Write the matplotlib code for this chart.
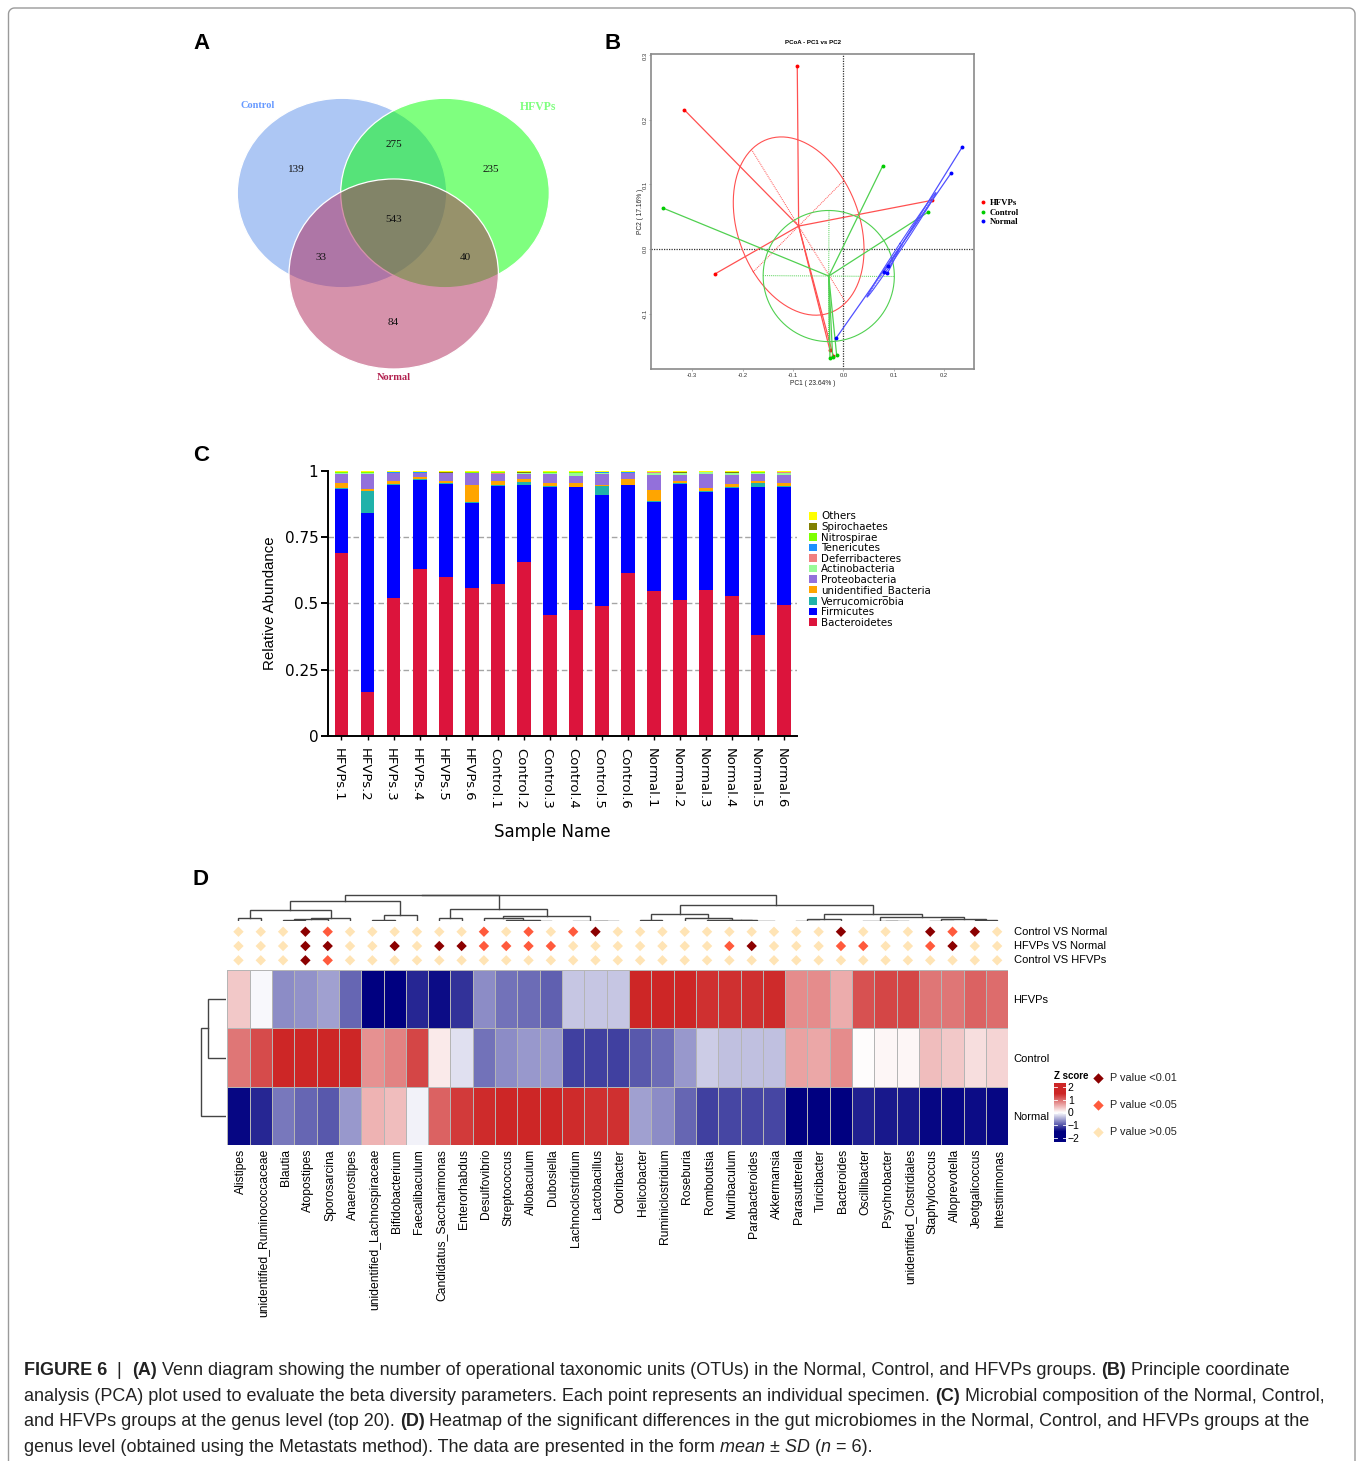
import numpy as np
import matplotlib
matplotlib.use('Agg')
import matplotlib.pyplot as plt
from matplotlib.colors import LinearSegmentedColormap, Normalize
from matplotlib.patches import Ellipse, Patch
from matplotlib.lines import Line2D
from matplotlib.transforms import ScaledTranslation

W, H = 1357, 1461
plt.rcParams['font.family'] = ['Liberation Sans', 'DejaVu Sans']

# panel A
venn_names = ['Control', 'HFVPs', 'Normal']
venn_colors = ['#5D91EB', '#00FF00', '#AF2759']
venn_cx = [342, 445, 393.7]
venn_cy = [193, 193, 274]
venn_a = [104.7, 104.3, 104.7]
venn_b = [94.7, 94.7, 95]
venn_counts = ['139', '275', '235', '543', '33', '40', '84']
venn_count_x = [296, 393.5, 491, 393.5, 321, 465.5, 393.5]
venn_count_y = [169, 144.5, 169, 220, 257.5, 257.5, 322.5]

# panel B
pc_x = {'HFVPs': [-.0914, -.3152, -.255, .1762, -.0265, -.0199],
        'Control': [-.3583, .0781, .1675, -.0132, -.0265, -.0212],
        'Normal': [.2364, .2139, .0887, .0808, .0874, -.0146]}
pc_y = {'HFVPs': [.2842, .2155, -.0388, .0755, -.1571, -.1659],
        'Control': [.0636, .1287, .0568, -.1649, -.169, -.1669],
        'Normal': [.1587, .1178, -.0269, -.0351, -.0377, -.1385]}
pc_colors = {'HFVPs': '#FF0000', 'Control': '#00CC00', 'Normal': '#0000FF'}

# panel C
samples = ['HFVPs.%d' % i for i in range(1, 7)] + ['Control.%d' % i for i in range(1, 7)] + ['Normal.%d' % i for i in range(1, 7)]
phyla = ['Bacteroidetes', 'Firmicutes', 'Verrucomicrobia', 'unidentified_Bacteria', 'Proteobacteria',
         'Actinobacteria', 'Deferribacteres', 'Tenericutes', 'Nitrospirae', 'Spirochaetes', 'Others']
phyla_colors = ['#DC143C', '#0000FF', '#20B2AA', '#FFA500', '#9370DB', '#98FB98', '#F08080', '#1E90FF', '#7FFF00', '#808000', '#FFFF00']
# cumulative top of each layer
top_bact = [.69, .165, .519, .63, .599, .56, .574, .658, .458, .475, .49, .615, .547, .513, .551, .527, .38, .494]
top_firm = [.932, .843, .947, .967, .951, .878, .945, .947, .941, .938, .911, .946, .884, .951, .922, .937, .94, .941]
top_verr = [.934, .926, .95, .969, .953, .882, .948, .958, .944, .941, .943, .949, .888, .954, .925, .941, .955, .944]
top_unid = [.955, .931, .962, .976, .962, .947, .962, .97, .955, .955, .947, .97, .928, .962, .937, .951, .962, .956]
top_prot = [.99, .99, .991, .992, .991, .992, .988, .99, .99, .981, .99, .993, .985, .985, .99, .985, .99, .985]
top_acti = [.991, .991, .994, .994, .992, .993, .989, .991, .993, .993, .994, .994, .992, .992, .995, .992, .993, .992]
top_defe = [.991, .991, .994, .994, .992, .993, .993, .992, .993, .993, .994, .994, .996, .992, .995, .992, .993, .996]
top_tene = [.992, .992, .995, .995, .993, .994, .994, .993, .994, .994, .995, .995, .997, .993, .996, .993, .994, .997]
top_nitr = [.995, .995, .996, .996, .994, .995, .995, .994, .995, .997, .996, .996, .998, .994, .997, .994, .995, .998]
top_spir = [.995, .995, .996, .996, .995, .995, .996, .996, .998, .997, .996, .996, .998, .997, .997, .998, .998, .998]
top_othe = [1.0] * 18
layer_tops = [top_bact, top_firm, top_verr, top_unid, top_prot, top_acti, top_defe, top_tene, top_nitr, top_spir, top_othe]

# panel D
genera = ['Alistipes', 'unidentified_Ruminococcaceae', 'Blautia', 'Atopostipes', 'Sporosarcina', 'Anaerostipes',
          'unidentified_Lachnospiraceae', 'Bifidobacterium', 'Faecalibaculum', 'Candidatus_Saccharimonas',
          'Enterorhabdus', 'Desulfovibrio', 'Streptococcus', 'Allobaculum', 'Dubosiella', 'Lachnoclostridium',
          'Lactobacillus', 'Odoribacter', 'Helicobacter', 'Ruminiclostridium', 'Roseburia', 'Romboutsia',
          'Muribaculum', 'Parabacteroides', 'Akkermansia', 'Parasutterella', 'Turicibacter', 'Bacteroides',
          'Oscillibacter', 'Psychrobacter', 'unidentified_Clostridiales', 'Staphylococcus', 'Alloprevotella',
          'Jeotgalicoccus', 'Intestinimonas']
heat_rows = ['HFVPs', 'Control', 'Normal']
heat_hfvps = [.5, -.05, -.9, -.85, -.75, -1.2, -2, -2, -1.7, -1.9, -1.6, -.9, -1.1, -1.15, -1.25, -.45, -.45, -.45,
              2, 2, 2, 1.9, 1.9, 1.9, 1.95, 1.05, 1.05, .75, 1.6, 1.7, 1.7, 1.25, 1.25, 1.45, 1.35]
heat_control = [1.25, 1.65, 2, 2, 2, 2, 1.0, 1.15, 1.7, .2, -.25, -1.1, -.9, -.8, -.8, -1.5, -1.5, -1.5,
                -1.3, -1.15, -.8, -.4, -.5, -.5, -.5, .85, .8, 1.05, .02, .08, .08, .6, .5, .3, .4]
heat_normal = [-1.95, -1.7, -1.05, -1.2, -1.3, -.8, .7, .6, -.1, 1.45, 1.8, 1.95, 2, 2, 2, 1.95, 1.9, 1.9,
               -.75, -.9, -1.2, -1.5, -1.45, -1.45, -1.45, -2, -2, -2, -1.75, -1.8, -1.8, -1.95, -1.95, -1.9, -1.95]
# 0: >0.05, 1: <0.05, 2: <0.01
sig_rows = ['Control VS HFVPs', 'HFVPs VS Normal', 'Control VS Normal']
sig_c_h = [0, 0, 0, 2, 1] + [0] * 30
sig_h_n = [0, 0, 0, 2, 2, 0, 0, 2, 0, 2, 2, 1, 1, 1, 1, 0, 0, 0, 0, 0, 0, 0, 1, 2, 0, 0, 0, 1, 1, 0, 0, 1, 2, 0, 0]
sig_c_n = [0, 0, 0, 2, 1, 0, 0, 0, 0, 0, 0, 1, 0, 1, 0, 1, 2, 0, 0, 0, 0, 0, 0, 0, 0, 0, 0, 2, 0, 0, 0, 2, 1, 2, 0]
sig_colors = ['#FFE4B5', '#FF5A3C', '#8B0000']
sig_labels = ['P value >0.05', 'P value <0.05', 'P value <0.01']
# linkage: (left id, right id, y pixel of the bracket); ids above 34 are earlier merges
col_merges = [(0, 1, 917.7), (2, 3, 920.2), (36, 4, 919.3), (37, 5, 917.7), (35, 38, 910), (6, 7, 920), (40, 8, 915),
              (39, 41, 900.7), (9, 10, 917.7), (13, 14, 920.7), (12, 44, 920), (11, 45, 918.3), (16, 17, 921),
              (15, 47, 920.7), (46, 48, 915.7), (43, 49, 909), (42, 50, 895.3), (18, 19, 920), (22, 23, 920.5),
              (53, 24, 920.7), (21, 54, 920), (20, 55, 918.3), (52, 56, 914.3), (25, 26, 921), (58, 27, 919.3),
              (29, 30, 921), (28, 60, 920.7), (31, 32, 920.7), (33, 34, 919.7), (62, 63, 919.3), (61, 64, 917.3),
              (59, 65, 913.7), (57, 66, 905.3), (51, 67, 895)]
row_merges = [(0, 1, 208.3), (3, 2, 201.3)]

caption = [
    [('FIGURE 6 ', 'b'), (' |  ', 'r'), ('(A)', 'b'), (' Venn diagram showing the number of operational taxonomic units (OTUs) in the Normal, Control, and HFVPs groups. ', 'r'), ('(B)', 'b'), (' Principle coordinate', 'r')],
    [('analysis (PCA) plot used to evaluate the beta diversity parameters. Each point represents an individual specimen. ', 'r'), ('(C)', 'b'), (' Microbial composition of the Normal, Control,', 'r')],
    [('and HFVPs groups at the genus level (top 20). ', 'r'), ('(D)', 'b'), (' Heatmap of the significant differences in the gut microbiomes in the Normal, Control, and HFVPs groups at the', 'r')],
    [('genus level (obtained using the Metastats method). The data are presented in the form ', 'r'), ('mean ± SD', 'i'), (' (', 'r'), ('n', 'i'), (' = 6).', 'r')],
]
caption_y = [1375, 1400.7, 1426, 1451.7]


def px_axes(l, t, r, b):
    return fig.add_axes([l / W, 1 - b / H, (r - l) / W, (b - t) / H])


def draw_tree(ax, merges, n, horizontal=False):
    # bracket positions follow the leaf order, heights are pixels
    pos = {i: (i + .5, base) for i, base in zip(range(n), [None] * n)}
    for k, (a, b, h) in enumerate(merges):
        xa, ha = pos[a]
        xb, hb = pos[b]
        ha = ax.leaf_base if ha is None else ha
        hb = ax.leaf_base if hb is None else hb
        xs = [xa, xa, xb, xb]
        hs = [ha, h, h, hb]
        if horizontal:
            ax.plot(hs, xs, color='#444444', lw=1, solid_joinstyle='miter')
        else:
            ax.plot(xs, hs, color='#444444', lw=1, solid_joinstyle='miter')
        pos[n + k] = ((xa + xb) / 2, h)


def shift_labels(labels, dx):
    for lab in labels:
        lab.set_transform(lab.get_transform() + ScaledTranslation(dx / 100, 0, fig.dpi_scale_trans))


fig = plt.figure(figsize=(W / 100, H / 100), dpi=100)

# page frame, letters, caption
bg = px_axes(0, 0, W, H)
bg.set_xlim(0, W)
bg.set_ylim(H, 0)
bg.axis('off')
t = np.linspace(0, np.pi / 2, 12)
fx = np.r_[8.5, 8.5, 14.5 - 6 * np.cos(t), 1349 + 6 * np.sin(t), 1355, 1355]
fy = np.r_[H, 14, 14 - 6 * np.sin(t), 14 - 6 * np.cos(t), 14, H]
bg.plot(fx, fy, color='#9A9A9A', lw=1)
for letter, lx, ly in zip('ABCD', [193, 605, 193, 193], [49, 49, 461, 885]):
    bg.text(lx, ly, letter, fontsize=16, fontweight='bold', color='black', ha='left', va='baseline')

renderer = fig.canvas.get_renderer()
for line, yy in zip(caption, caption_y):
    xx = 24
    for txt, style in line:
        tt = bg.text(xx, yy, txt, fontsize=12.95, color='#222222', va='baseline', ha='left',
                     fontweight='bold' if style == 'b' else 'normal',
                     fontstyle='italic' if style == 'i' else 'normal')
        xx += tt.get_window_extent(renderer).width

# A: venn
for nm, c, cx, cy, a, b in zip(venn_names, venn_colors, venn_cx, venn_cy, venn_a, venn_b):
    bg.add_patch(Ellipse((cx, cy), 2 * a, 2 * b, facecolor=matplotlib.colors.to_rgba(c, .5), edgecolor='white', lw=.9))
for s, x, y in zip(venn_counts, venn_count_x, venn_count_y):
    bg.text(x, y, s, family='Liberation Serif', fontsize=8, ha='center', va='center', color='#111111')
bg.text(257.5, 105, 'Control', family='Liberation Serif', fontweight='bold', fontsize=7.5, color='#6699FF', ha='center', va='center')
bg.text(538.5, 107, 'HFVPs', family='Liberation Serif', fontweight='bold', fontsize=8.5, color='#80FF80', ha='center', va='center')
bg.text(393.5, 378, 'Normal', family='Liberation Serif', fontweight='bold', fontsize=7.5, color='#B2214F', ha='center', va='center')

# B: PCoA
ax = px_axes(651.3, 54, 974, 369.3)
ax.set_xlim(-.381, .2593)
ax.set_ylim(-.1865, .3023)
ax.axhline(0, color='#333333', lw=.9, ls=(0, (1, 1)))
ax.axvline(0, color='#333333', lw=.9, ls=(0, (1, 1)))
ang = np.linspace(0, 2 * np.pi, 200)
for g in pc_x:
    px, py = np.array(pc_x[g]), np.array(pc_y[g])
    c = pc_colors[g]
    lc = {'HFVPs': '#FF5050', 'Control': '#50D050', 'Normal': '#5050FF'}[g]
    cx, cy = px.mean(), py.mean()
    vals, vecs = np.linalg.eigh(np.cov(px, py, bias=True))
    axes_v = vecs * .8 * np.sqrt(vals)
    ring = np.array([cx, cy])[:, None] + axes_v @ np.array([np.cos(ang), np.sin(ang)])
    ax.plot(ring[0], ring[1], color=lc, lw=.8)
    for k in range(2):
        ax.plot([cx - axes_v[0, k], cx + axes_v[0, k]], [cy - axes_v[1, k], cy + axes_v[1, k]], color=lc, lw=.7, ls=(0, (1, 1)))
    for x0, y0 in zip(px, py):
        ax.plot([cx, x0], [cy, y0], color=lc, lw=.9)
    ax.plot(px, py, 'o', color=c, ms=2.8, mew=0)
for s in ax.spines.values():
    s.set_color('#8A8A8A')
    s.set_linewidth(1.2)
ax.set_xticks([-.3, -.2, -.1, 0, .1, .2])
ax.set_xticklabels(['-0.3', '-0.2', '-0.1', '0.0', '0.1', '0.2'])
ax.set_yticks([-.1, 0, .1, .2, .3])
ax.set_yticklabels(['-0.1', '0.0', '0.1', '0.2', '0.3'], rotation=90, va='center')
ax.tick_params(labelsize=4.2, length=1.2, width=.4, pad=1.2, color='#777777', labelcolor='#333333')
ax.set_xlabel('PC1 ( 23.64% )', fontsize=4.8, labelpad=2, color='#222222')
ax.set_ylabel('PC2 ( 17.16% )', fontsize=4.8, labelpad=-.5, color='#222222')
ax.set_title('PCoA - PC1 vs PC2', fontsize=4.4, fontweight='bold', pad=7.5, x=.5)
handles = [Line2D([], [], marker='o', ls='', color=pc_colors[g], ms=2.8, mew=0, label=g) for g in pc_x]
ax.legend(handles=handles, loc='center left', bbox_to_anchor=(1.006, .497), frameon=False, handlelength=1, handletextpad=.3,
          labelspacing=.15, prop={'family': 'Liberation Serif', 'weight': 'bold', 'size': 6.3}, borderaxespad=.3, borderpad=0)

# C: stacked bars
ax = px_axes(328, 471, 797, 736)
xpos = np.arange(len(samples))
ax.set_xlim(-.518, 17.49)
ax.set_ylim(0, 1)
for yy in [.25, .5, .75]:
    ax.axhline(yy, color='#A5A5A5', lw=1, ls=(0, (4, 2)), zorder=1)
prev = np.zeros(len(samples))
for nm, col, tops in zip(phyla, phyla_colors, layer_tops):
    tops = np.array(tops)
    ax.bar(xpos, tops - prev, bottom=prev, width=.53, color=col, zorder=2, label=nm)
    prev = tops
for s in ['top', 'right']:
    ax.spines[s].set_visible(False)
for s in ['left', 'bottom']:
    ax.spines[s].set_linewidth(1.4)
ax.set_xticks(xpos)
ax.set_xticklabels(samples, rotation=-90, family='DejaVu Sans', fontsize=9.5, ha='center', va='top')
ax.set_yticks([0, .25, .5, .75, 1])
ax.set_yticklabels(['0', '0.25', '0.5', '0.75', '1'], family='DejaVu Sans', fontsize=11)
ax.tick_params(axis='x', length=3, width=1, pad=6)
ax.tick_params(axis='y', length=5, width=1.4, pad=2)
shift_labels(ax.get_xticklabels(), -3)
ax.set_ylabel('Relative Abundance', fontsize=10.8, labelpad=0)
ax.set_xlabel('Sample Name', family='DejaVu Sans', fontsize=12, labelpad=10)
ax.xaxis.set_label_coords((552 - 328) / 469, -(823 - 736) / 265)
ax.yaxis.set_label_coords((277 - 328) / 469, .5)
leg_handles = [Patch(facecolor=c, label=n) for n, c in zip(phyla[::-1], phyla_colors[::-1])]
ax.legend(handles=leg_handles, loc='upper left', bbox_to_anchor=((809 - 328) / 469, (736 - 511.5) / 265), frameon=False,
          prop={'family': 'DejaVu Sans', 'size': 7.4}, handlelength=.78, handleheight=.78, handletextpad=.39,
          labelspacing=.05, borderaxespad=0, borderpad=0)

# D: heatmap
cmap = LinearSegmentedColormap.from_list('nwf', ['#000080', 'white', '#CD2626'])
Z = np.array([heat_hfvps, heat_control, heat_normal])
ax = px_axes(227.3, 970, 1008.3, 1145)
ax.pcolormesh(Z, cmap=cmap, norm=Normalize(-2, 2), edgecolors='#B5B5B5', linewidth=.45)
ax.set_xlim(0, 35)
ax.set_ylim(3, 0)
ax.set_xticks(np.arange(35) + .5)
ax.set_xticklabels(genera, rotation=90, fontsize=8.7, ha='center', va='top')
ax.set_yticks(np.arange(3) + .5)
ax.set_yticklabels(heat_rows, fontsize=8)
ax.yaxis.tick_right()
ax.tick_params(axis='y', length=0, pad=3.3)
ax.tick_params(axis='x', length=0, pad=2.8)
shift_labels(ax.get_xticklabels(), 2.5)
for s in ax.spines.values():
    s.set_visible(False)

# significance diamonds
ax = px_axes(227.3, 885, 1008.3, 970)
ax.set_xlim(0, 35)
ax.set_ylim(-.678, 5.27)
ax.axis('off')
for r, (nm, codes) in enumerate(zip(sig_rows, [sig_c_h, sig_h_n, sig_c_n])):
    ax.scatter(np.arange(35) + .5, [r] * 35, marker='D', s=28, c=[sig_colors[k] for k in codes], linewidths=0)
    ax.text(35.25, r, nm, fontsize=8, va='center', ha='left')

# dendrograms
ax = px_axes(227.3, 890, 1008.3, 921.3)
ax.set_xlim(0, 35)
ax.set_ylim(921.3, 890)
ax.axis('off')
ax.leaf_base = 921.3
draw_tree(ax, col_merges, 35)
ax = px_axes(195, 970, 226, 1145)
ax.set_xlim(195, 226)
ax.set_ylim(3, 0)
ax.axis('off')
ax.leaf_base = 225
draw_tree(ax, row_merges, 3, horizontal=True)

# colorbar
ax = px_axes(1054.3, 1083.3, 1065.7, 1141.7)
grad = np.linspace(2.33, -2.33, 120)[:, None]
ax.imshow(grad, cmap=cmap, norm=Normalize(-1.5, 1.5), aspect='auto', extent=(0, 1, -2.33, 2.33))
ax.set_xticks([])
ax.set_yticks([2, 1, 0, -1, -2])
ax.set_yticklabels(['2', '1', '0', '−1', '−2'], fontsize=7.5)
ax.yaxis.tick_right()
ax.tick_params(length=0, pad=1.5)
for s in ax.spines.values():
    s.set_visible(False)
for yy in [2, 1, 0, -1, -2]:
    ax.plot([0, .2], [yy, yy], color='white', lw=.6)
    ax.plot([.8, 1], [yy, yy], color='white', lw=.6)
ax.set_xlim(0, 1)
ax.set_ylim(-2.33, 2.33)
bg.text(1054.5, 1076, 'Z score', fontsize=7, fontweight='bold', va='center', ha='left')
for lab, col, yy in zip(sig_labels[::-1], sig_colors[::-1], [1078, 1105, 1131.7]):
    bg.scatter([1098.3], [yy], marker='D', s=28, color=col, linewidths=0)
    bg.text(1110.3, yy, lab, fontsize=7.8, va='center', ha='left', color='#222222')
bg.set_xlim(0, W)
bg.set_ylim(H, 0)

fig.savefig('out.png', dpi=100)
